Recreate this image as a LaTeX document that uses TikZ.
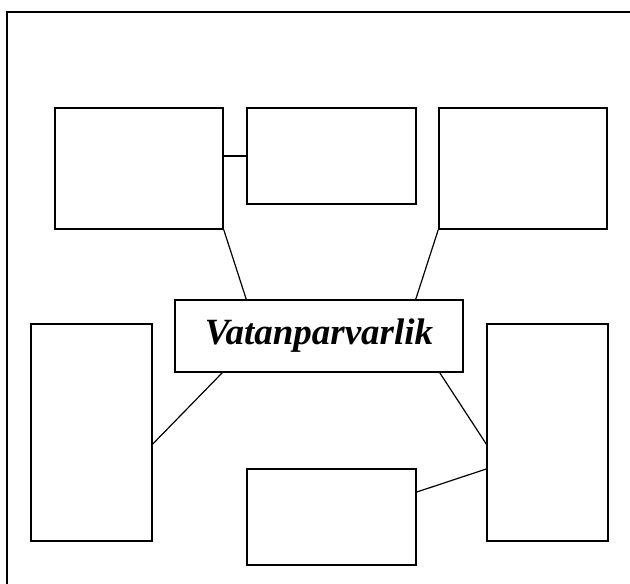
\documentclass[tikz,border=0pt]{standalone}
\usepackage{fontspec}
\setmainfont{Liberation Serif}
\begin{document}
\begin{tikzpicture}[x=1pt,y=-1pt,
        box/.style={draw,rectangle,line width=1.5pt,inner sep=0pt,anchor=center},
        link/.style={line width=1.2pt}]
        \useasboundingbox (0,0) rectangle (630,584);
        %% Frame
        \draw[line width=1.5pt] (630,12) -- (7,12) -- (7,584);
        %% Boxes
        \node[box,minimum width=288pt,minimum height=72pt] (ctr) at (319,336) {\bfseries\itshape\fontsize{37}{40}\selectfont Vatanparvarlik};
        \node[box,minimum width=168pt,minimum height=121pt] (tl) at (139,168.5) {};
        \node[box,minimum width=169pt,minimum height=96pt] (tm) at (331.5,156) {};
        \node[box,minimum width=168pt,minimum height=121pt] (tr) at (523,168.5) {};
        \node[box,minimum width=121pt,minimum height=217pt] (lf) at (91.5,432.5) {};
        \node[box,minimum width=121pt,minimum height=217pt] (rt) at (547.5,432.5) {};
        \node[box,minimum width=169pt,minimum height=96pt] (bm) at (331.5,517) {};
        %% Links
        \draw[link] (tm.west) -- (tm.west -| tl.east);
        \draw[link] (tl.south east) -- ([xshift=72pt]ctr.north west);
        \draw[link] (tr.south west) -- ([xshift=-48pt]ctr.north east);
        \draw[link] ([xshift=48pt]ctr.south west) -- ([yshift=-11.5pt]lf.east);
        \draw[link] ([xshift=-24pt]ctr.south east) -- ([yshift=-11.5pt]rt.west);
        \draw[link] ([yshift=25pt]bm.east) -- ([yshift=-36.5pt]rt.west);
    \end{tikzpicture}
\end{document}
